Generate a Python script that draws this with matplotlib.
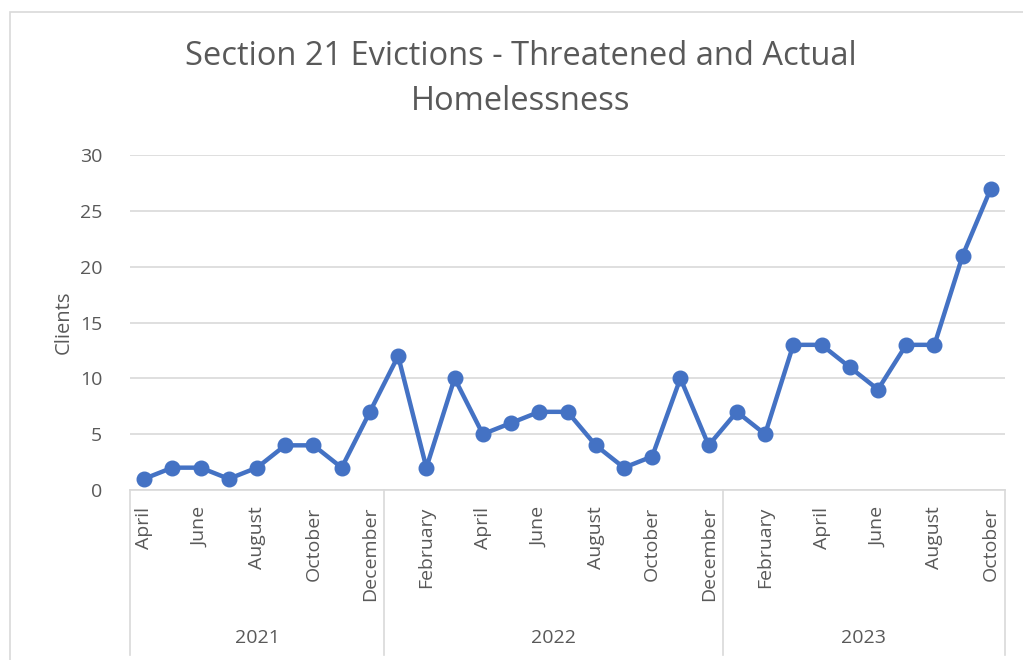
import matplotlib.pyplot as plt
from matplotlib.patches import Rectangle
import matplotlib.transforms as mtransforms

plt.rcParams['font.family'] = ['Open Sans', 'DejaVu Sans']

years = ["2021", "2022", "2023"]
months_2021 = ["April", "May", "June", "July", "August", "September", "October", "November", "December"]
months_2022 = ["January", "February", "March", "April", "May", "June", "July", "August",
               "September", "October", "November", "December"]
months_2023 = ["January", "February", "March", "April", "May", "June", "July", "August",
               "September", "October"]
clients_2021 = [1, 2, 2, 1, 2, 4, 4, 2, 7]
clients_2022 = [12, 2, 10, 5, 6, 7, 7, 4, 2, 3, 10, 4]
clients_2023 = [7, 5, 13, 13, 11, 9, 13, 13, 21, 27]

months = months_2021 + months_2022 + months_2023
clients = clients_2021 + clients_2022 + clients_2023
group_sizes = [len(months_2021), len(months_2022), len(months_2023)]

text_col = "#595959"
grid_col = "#d9d9d9"

fig = plt.figure(figsize=(10.23, 6.6), dpi=100)
fig.patches.append(Rectangle((10 / 1023, -0.1), 1.2, 1 - 12 / 660 + 0.1, transform=fig.transFigure,
                             fill=False, edgecolor=grid_col, linewidth=1.2))

ax = fig.add_axes([130 / 1023, 1 - 490 / 660, 875 / 1023, 335 / 660])
x = list(range(len(months)))
ax.plot(x, clients, color="#4472C4", linewidth=3.2, marker="o", markersize=10.5, zorder=3)

ax.set_xlim(-0.5, len(months) - 0.5)
ax.set_ylim(0, 30)
ax.set_yticks(range(0, 31, 5))
ax.yaxis.grid(True, color=grid_col, linewidth=1.2)
ax.set_axisbelow(True)
for s in ["top", "right", "left"]:
    ax.spines[s].set_visible(False)
ax.spines["bottom"].set_color(grid_col)
ax.spines["bottom"].set_linewidth(1.2)
ax.tick_params(axis="y", length=0, labelsize=14, labelcolor=text_col, pad=20)

ax.set_xticks(x[::2])
ax.set_xticklabels(months[::2], rotation=90, fontsize=14, color=text_col, va="top")
ax.tick_params(axis="x", length=0, pad=12)

ax.set_ylabel("Clients", fontsize=14.5, color=text_col, labelpad=4)

# year group separators and labels
trans = mtransforms.blended_transform_factory(ax.transData, ax.transAxes)
bottom = -(655 - 490) / 335
start = -0.5
bounds = [start]
for n in group_sizes:
    bounds.append(bounds[-1] + n)
for b in bounds:
    ax.plot([b, b], [0, bottom], transform=trans, color=grid_col, linewidth=1.2, clip_on=False)
for i, yr in enumerate(years):
    ax.text((bounds[i] + bounds[i + 1]) / 2, -(638 - 490) / 335, yr, transform=trans,
            ha="center", va="center", fontsize=14, color=text_col)

fig.text(521 / 1023, 1 - 79 / 660, "Section 21 Evictions - Threatened and Actual\nHomelessness",
         ha="center", va="center", fontsize=23.5, color=text_col, linespacing=1.45)

fig.savefig("out.png", dpi=100)
